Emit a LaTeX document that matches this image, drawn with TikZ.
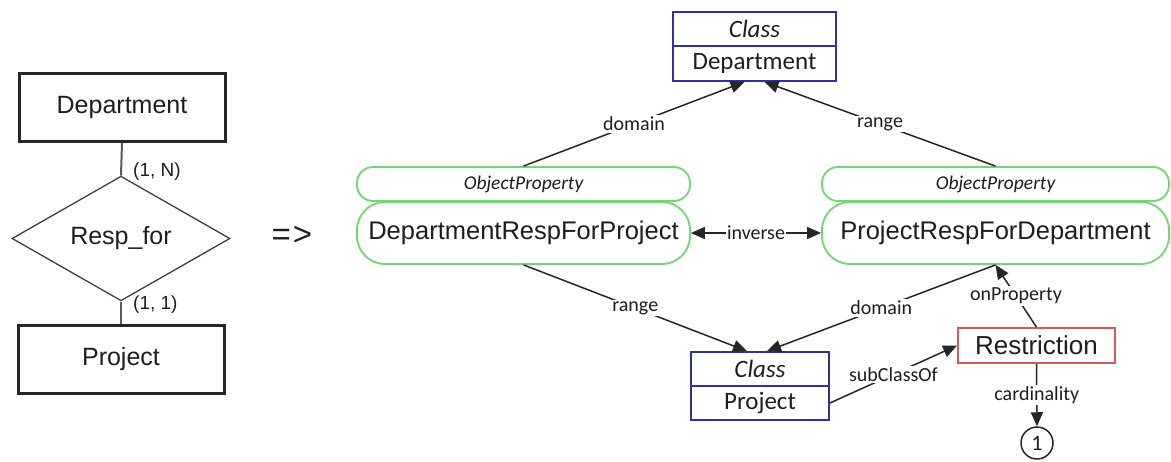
\documentclass[tikz,border=0pt]{standalone}
\usepackage{fontspec}
\setmainfont{Liberation Sans}
\newfontfamily\calfont{Carlito}
\usetikzlibrary{arrows.meta,shapes.geometric}
\definecolor{clsblue}{HTML}{3030A8}
\definecolor{opgreen}{HTML}{70D870}
\definecolor{resred}{HTML}{D85858}
\definecolor{txt}{HTML}{1E1E1E}
\begin{document}
\begin{tikzpicture}[x=1pt,y=-1pt,text=txt,
  erbox/.style={draw=black!85, line width=3pt, minimum width=206pt, minimum height=68pt, inner sep=0pt, font=\fontsize{25}{30}\selectfont},
  erdiam/.style={diamond, draw=black!75, line width=1.3pt, minimum width=218pt, minimum height=87pt, inner sep=0pt, font=\fontsize{25}{30}\selectfont},
  erline/.style={draw=black!65, line width=2pt},
  cardlab/.style={font=\fontsize{19}{22}\selectfont, anchor=west, inner sep=0pt},
  clsbox/.style={draw=clsblue, line width=1.8pt, minimum height=34pt, inner sep=0pt, font=\calfont\fontsize{25}{30}\selectfont},
  pillsmall/.style={draw=opgreen, line width=1.8pt, rounded corners=16pt, minimum height=34pt, inner sep=0pt, font=\calfont\itshape\fontsize{19.5}{22}\selectfont},
  pillbig/.style={draw=opgreen, line width=1.8pt, rounded corners=28pt, minimum height=62pt, inner sep=0pt, font=\fontsize{25.5}{30}\selectfont},
  resbox/.style={draw=resred, line width=1.8pt, minimum width=157pt, minimum height=35pt, inner sep=0pt, font=\fontsize{26}{30}\selectfont},
  valcirc/.style={circle, draw=black!85, line width=1.5pt, minimum size=32pt, inner sep=0pt, font=\calfont\fontsize{22}{26}\selectfont},
  arr/.style={draw=black!85, line width=1.5pt, -{Triangle[length=14pt,width=12pt]}},
  arrboth/.style={draw=black!85, line width=1.5pt, {Triangle[length=14pt,width=12pt]}-{Triangle[length=14pt,width=12pt]}},
  elabel/.style={fill=white, inner sep=1.5pt, font=\calfont\fontsize{20}{24}\selectfont}
]
\fill[white] (0,0) rectangle (1171,461);
\useasboundingbox (0,0) rectangle (1171,461);

% ER diagram
\node[erbox] (deptER) at (122,107.5) {Department};
\node[erdiam] (resp) at (121,238.5) {Resp\_for};
\node[erbox] (projER) at (121,359) {Project};
\draw[erline] (deptER.south) -- (resp.north);
\draw[erline] (resp.south) -- (projER.north);
\node[cardlab] (cN) at (133,172) {(1, N)};
\node[cardlab] (c1) at (133,305) {(1, 1)};
\node[font=\fontsize{33}{36}\selectfont, inner sep=0pt] (impl) at (292,236) {=\kern2pt>};

% Ontology
\node[clsbox, minimum width=163pt, font=\calfont\itshape\fontsize{25}{30}\selectfont] (clsDh) at (754.5,29) {Class};
\node[clsbox, minimum width=163pt, minimum height=35pt] (clsDb) at (754.5,63.5) {Department};

\node[pillsmall, minimum width=333pt] (opLs) at (523.5,184) {ObjectProperty};
\node[pillbig, minimum width=333pt] (opL) at (523.5,233) {DepartmentRespForProject};
\node[pillsmall, minimum width=347pt] (opRs) at (995.5,184) {ObjectProperty};
\node[pillbig, minimum width=347pt] (opR) at (995.5,233) {ProjectRespForDepartment};

\node[clsbox, minimum width=138pt, font=\calfont\itshape\fontsize{25}{30}\selectfont] (clsPh) at (760,369) {Class};
\node[clsbox, minimum width=138pt] (clsPb) at (760,403) {Project};

\node[resbox] (restr) at (1036.5,345.5) {Restriction};
\node[valcirc] (one) at (1037,443) {1};

\draw[arr] (opLs.north) -- node[elabel] {domain} ([xshift=-10pt]clsDb.south);
\draw[arr] (opRs.north) -- node[elabel] {range} ([xshift=10pt]clsDb.south);
\draw[arrboth] (opL.east) -- node[elabel] {inverse} (opR.west);
\draw[arr] (opL.south) -- node[elabel] {range} ([xshift=-13pt]clsPh.north);
\draw[arr] (opR.south) -- node[elabel] {domain} ([xshift=7pt]clsPh.north);
\draw[arr] (restr.north) -- node[elabel] {onProperty} (opR.south);
\draw[arr] (clsPb.east) -- node[elabel] {subClassOf} (restr.west);
\draw[arr] (restr.south) -- node[elabel] {cardinality} (one.north);
\end{tikzpicture}
\end{document}
